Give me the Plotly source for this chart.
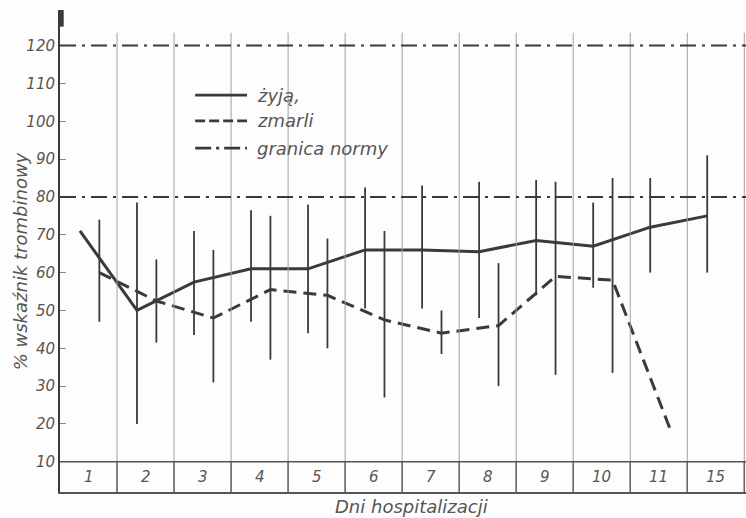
import plotly.graph_objects as go

# Hospital days (category boxes along the bottom)
days = ["1", "2", "3", "4", "5", "6", "7", "8", "9", "10", "11", "15"]

# Thrombin index (%) - survivors
zyja = [71, 50, 57.5, 61, 61, 66, 66, 65.5, 68.5, 67, 72, 75]
zyja_hi = [None, 78.5, 71, 76.5, 78, 82.5, 83, 84, 84.5, 78.5, 85, 91]
zyja_lo = [None, 20, 43.5, 47, 44, 50.5, 50.5, 48, 54, 56, 60, 60]

# Thrombin index (%) - deceased
zmarli = [60, 52.5, 48, 55.5, 54, 47.5, 44, 46, 59, 58, 19, None]
zmarli_hi = [74, 63.5, 66, 75, 69, 71, 50, 62.5, 84, 85, None, None]
zmarli_lo = [47, 41.5, 31, 37, 40, 27, 38.5, 30, 33, 33.5, None, None]

# Normal range limits
norma = [120, 80]

y_ticks = list(range(10, 130, 10))

INK = "#3a3a3a"
TXT = "#555555"
GRID = "#a0a0a0"
FONT = "DejaVu Sans"

Y0, Y1 = 2.02, 129.4
X1 = 12.03
n = len(days)

def err(vals, hi, lo):
    plus, minus = [], []
    for v, h, l in zip(vals, hi, lo):
        if v is None or h is None:
            plus.append(0)
            minus.append(0)
        else:
            plus.append(h - v)
            minus.append(v - l)
    return plus, minus

x_z = [i + 0.5 - 0.15 for i in range(n)]
x_m = [i + 0.5 + 0.19 for i in range(n)]

zp, zm = err(zyja, zyja_hi, zyja_lo)
mp, mm = err(zmarli, zmarli_hi, zmarli_lo)

fig = go.Figure()

fig.add_trace(go.Scatter(
    x=x_z, y=zyja, mode="lines",
    line=dict(color=INK, width=3),
    error_y=dict(type="data", array=zp, arrayminus=zm, symmetric=False,
                 color=INK, thickness=1.8, width=0),
    showlegend=False, hoverinfo="skip"))

fig.add_trace(go.Scatter(
    x=x_m, y=zmarli, mode="lines",
    line=dict(color=INK, width=3, dash="13px,7px"),
    error_y=dict(type="data", array=mp, arrayminus=mm, symmetric=False,
                 color=INK, thickness=1.8, width=0),
    showlegend=False, hoverinfo="skip", connectgaps=False))

shapes = []
# vertical dividers between days
for k in range(1, n + 1):
    shapes.append(dict(type="line", xref="x", yref="y", x0=k, x1=k,
                       y0=Y0, y1=123.4, line=dict(color=GRID, width=1)))
    shapes.append(dict(type="line", xref="x", yref="y", x0=k, x1=k,
                       y0=Y0, y1=10, line=dict(color="#666", width=1.5)))
# top edge of the day boxes
shapes.append(dict(type="line", xref="x", yref="y", x0=0, x1=X1,
                   y0=10, y1=10, line=dict(color="#555", width=1.6)))
# normal range limits
for v in norma:
    shapes.append(dict(type="line", xref="x", yref="y", x0=0, x1=X1,
                       y0=v, y1=v,
                       line=dict(color=INK, width=2, dash="16px,6px,3px,6px")))
# axis top mark
shapes.append(dict(type="line", xref="x", yref="y", x0=0.03, x1=0.03,
                   y0=125, y1=Y1, line=dict(color=INK, width=4)))

# legend samples
leg_y = [106.9, 100.1, 92.9]
leg_dash = ["solid", "10px,4px", "16px,5px,3px,5px"]
leg_txt = ["żyją,", "zmarli", "granica normy"]
for yy, d in zip(leg_y, leg_dash):
    shapes.append(dict(type="line", xref="x", yref="y", x0=2.37, x1=3.28,
                       y0=yy, y1=yy, line=dict(color=INK, width=2.6, dash=d)))

annotations = []
for yy, t in zip(leg_y, leg_txt):
    annotations.append(dict(x=3.42, y=yy, xref="x", yref="y", text=t,
                            showarrow=False, xanchor="left", yanchor="middle",
                            font=dict(family=FONT, size=18, color=TXT,
                                      style="italic")))
for i, d in enumerate(days):
    annotations.append(dict(x=i + 0.5, y=6.1, xref="x", yref="y", text=d,
                            showarrow=False, xanchor="center", yanchor="middle",
                            font=dict(family=FONT, size=15, color=TXT,
                                      style="italic")))
annotations.append(dict(x=-0.058, y=0.479, xref="paper", yref="paper",
                        text="% wskaźnik trombinowy", textangle=-90,
                        showarrow=False, xanchor="center", yanchor="middle",
                        font=dict(family=FONT, size=18, color=TXT,
                                  style="italic")))
annotations.append(dict(x=0.513, y=-0.031, xref="paper", yref="paper",
                        text="Dni hospitalizacji",
                        showarrow=False, xanchor="center", yanchor="middle",
                        font=dict(family=FONT, size=18, color=TXT,
                                  style="italic")))

fig.update_layout(
    width=746, height=518,
    margin=dict(l=60, r=0, t=10, b=26),
    paper_bgcolor="#fdfdfd", plot_bgcolor="#fdfdfd",
    shapes=shapes, annotations=annotations,
    showlegend=False,
    xaxis=dict(range=[0, X1], showticklabels=False, showgrid=False,
               zeroline=False, showline=True, linecolor="#555", linewidth=2,
               ticks=""),
    yaxis=dict(range=[Y0, Y1], tickvals=y_ticks, ticks="inside", ticklen=6,
               tickcolor="#888", tickwidth=1, showgrid=False, zeroline=False,
               showline=True, linecolor=INK, linewidth=2,
               tickfont=dict(family=FONT, size=15, color=TXT, style="italic")),
)

fig.write_html("out.html")
